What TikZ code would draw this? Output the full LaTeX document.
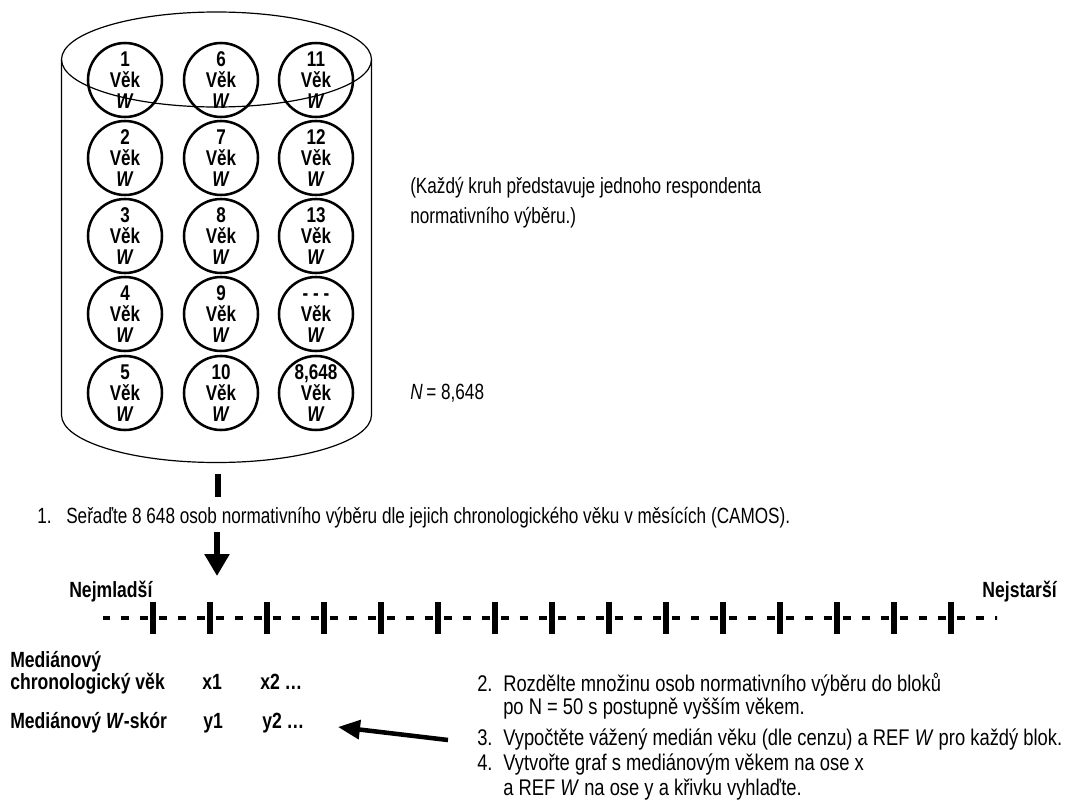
\documentclass[tikz,border=0pt]{standalone}
\usepackage{fontspec}
\setmainfont{Liberation Sans}[FakeStretch=0.78]
\newfontfamily\boldcond{Liberation Sans}[FakeStretch=0.8]
\newfontfamily\circcond{Liberation Sans}[FakeStretch=0.8]
\newfontfamily\stepcond{Liberation Sans}[FakeStretch=0.81]
\usetikzlibrary{arrows.meta}

\begin{document}
\begin{tikzpicture}[x=0.75pt,y=-0.75pt,
  txt/.style={inner sep=0pt, anchor=base west, font=\fontsize{16.5pt}{18pt}\selectfont},
  steptxt/.style={inner sep=0pt, anchor=base west, font=\stepcond\fontsize{17pt}{18pt}\selectfont},
  lbl/.style={inner sep=0pt, anchor=base west, font=\boldcond\fontsize{16.5pt}{18pt}\selectfont\bfseries},
  person/.style={circle, draw, line width=1.9pt, minimum size=55.5pt, inner sep=0pt,
    align=center, font=\circcond\fontsize{16pt}{16pt}\selectfont\bfseries},
  cyl/.style={line width=0.9pt},
  bigarrow/.style={line width=4.5pt, -{Triangle[length=16.5pt,width=18pt]}},
  dashseg/.style={line width=3pt},
  tick/.style={line width=3.9pt}]

% page frame
\useasboundingbox (0,0) rectangle (1075,810);

% cylinder holding the sample
\draw[cyl] (216.5,59.5) ellipse [x radius=116.25pt, y radius=35.625pt];
\draw[cyl] (61.5,59.5) -- (61.5,415)
  arc [start angle=180, end angle=360, x radius=116.25pt, y radius=35.625pt]
  -- (371.5,59.5);

% respondents
\node[person] (p1)  at (125,80)  {1\\Věk\\\textit{W}};
\node[person] (p2)  at (125,158) {2\\Věk\\\textit{W}};
\node[person] (p3)  at (125,236) {3\\Věk\\\textit{W}};
\node[person] (p4)  at (125,314) {4\\Věk\\\textit{W}};
\node[person] (p5)  at (125,393) {5\\Věk\\\textit{W}};
\node[person] (p6)  at (221,80)  {6\\Věk\\\textit{W}};
\node[person] (p7)  at (221,158) {7\\Věk\\\textit{W}};
\node[person] (p8)  at (221,236) {8\\Věk\\\textit{W}};
\node[person] (p9)  at (221,314) {9\\Věk\\\textit{W}};
\node[person] (p10) at (221,393) {10\\Věk\\\textit{W}};
\node[person] (p11) at (316,80)  {11\\Věk\\\textit{W}};
\node[person] (p12) at (316,158) {12\\Věk\\\textit{W}};
\node[person] (p13) at (316,236) {13\\Věk\\\textit{W}};
\node[person] (p14) at (316,314) {\vphantom{1}- - -\\Věk\\\textit{W}};
\node[person] (p15) at (316,393) {8,648\\Věk\\\textit{W}};

% notes beside the cylinder
\node[txt] (note1) at (410,193) {(Každý kruh představuje jednoho respondenta};
\node[txt] (note2) at (410,223) {normativního výběru.)};
\node[txt] (ntot)  at (410,399) {\textit{N}\,= 8,648};

% step 1
\coordinate (barTop) at (217.5,474);
\coordinate (barBot) at (217.5,497);
\draw[line width=4.5pt] (barTop) -- (barBot);
\node[txt] (n1) at (37,523) {1.};
\node[txt] (s1) at (66,523) {Seřaďte 8 648 osob normativního výběru dle jejich chronologického věku v měsících (CAMOS).};
\coordinate (a1from) at (217,532);
\coordinate (a1to) at (217,576);
\draw[bigarrow] (a1from) -- (a1to);

% age axis: evenly spaced dashes with a tick every third gap
\node[lbl] (young) at (69,597) {Nejmladší};
\node[lbl, anchor=base east] (old) at (1057,597) {Nejstarší};
\begin{scope}
  \clip (103,600) rectangle (997,636);
  \foreach \c in {105.5,124.5,...,1000} {
    \draw[dashseg] (\c-4,618) -- (\c+4,618);
  }
\end{scope}
\foreach \t in {153,210,...,952} {
  \draw[tick] (\t,602) -- (\t,634);
}

% block medians
\node[lbl] (med1a) at (10,667) {Mediánový};
\node[lbl] (med1b) at (10,689) {chronologický věk};
\node[lbl] (x1) at (202,689) {x1};
\node[lbl] (x2) at (260,689) {x2 …};
\node[lbl] (med2) at (10,728) {Mediánový \textit{W}-skór};
\node[lbl] (y1) at (203,728) {y1};
\node[lbl] (y2) at (262,728) {y2 …};

% steps 2-4
\node[steptxt] (n2) at (477,691) {2.};
\node[steptxt] (s2a) at (503,691) {Rozdělte množinu osob normativního výběru do bloků};
\node[steptxt] (s2b) at (503,714) {po N = 50 s postupně vyšším věkem.};
\node[steptxt] (n3) at (477,745) {3.};
\node[steptxt] (s3) at (503,745) {Vypočtěte vážený medián věku (dle cenzu) a REF \textit{W} pro každý blok.};
\node[steptxt] (n4) at (477,770) {4.};
\node[steptxt] (s4a) at (503,770) {Vytvořte graf s mediánovým věkem na ose x};
\node[steptxt] (s4b) at (503,795) {a REF \textit{W} na ose y a křivku vyhlaďte.};

\coordinate (a2from) at (448,740);
\coordinate (a2to) at (338,727);
\draw[line width=3.4pt, -{Triangle[length=16.5pt,width=14pt]}] (a2from) -- (a2to);
\end{tikzpicture}
\end{document}
